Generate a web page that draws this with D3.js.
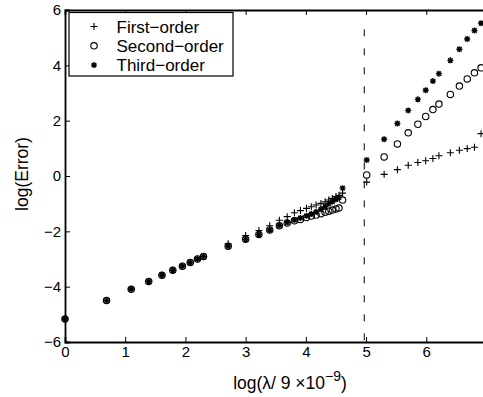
<!DOCTYPE html>
<html>
<head>
<meta charset="utf-8">
<script src="https://cdn.jsdelivr.net/npm/d3@7"></script>
<style>
  body { margin: 0; background: #fff; }
  text { font-family: "Liberation Sans", Arial, Helvetica, sans-serif; fill: #000; }
</style>
</head>
<body>
<script>
// x positions, log of the wavelength ratio
var xLow = [0, 0.69, 1.10, 1.39, 1.61, 1.79, 1.95, 2.08, 2.20, 2.30, 2.71, 3.00, 3.22, 3.40,
            3.56, 3.69, 3.81, 3.91, 4.01, 4.09, 4.17, 4.25, 4.32, 4.38, 4.44, 4.50, 4.55, 4.61];
var xHigh = [5.01, 5.30, 5.52, 5.70, 5.86, 5.99, 6.11, 6.21, 6.40, 6.55, 6.68, 6.80, 6.91];

var firstLow = [-5.17, -4.50, -4.09, -3.81, -3.59, -3.41, -3.26, -3.13, -3.00, -2.91, -2.45, -2.15, -1.97, -1.80,
                -1.60, -1.47, -1.33, -1.25, -1.17, -1.11, -1.05, -0.99, -0.93, -0.87, -0.81, -0.74, -0.70, -0.62];
var secondLow = [-5.17, -4.50, -4.09, -3.81, -3.59, -3.41, -3.26, -3.13, -3.00, -2.91, -2.54, -2.29, -2.11, -1.95,
                 -1.80, -1.70, -1.62, -1.57, -1.50, -1.45, -1.41, -1.36, -1.31, -1.27, -1.23, -1.19, -1.16, -0.87];
var thirdLow = [-5.17, -4.50, -4.09, -3.81, -3.59, -3.41, -3.26, -3.13, -3.00, -2.91, -2.54, -2.29, -2.11, -1.95,
                -1.79, -1.68, -1.59, -1.52, -1.44, -1.37, -1.30, -1.20, -1.10, -1.00, -0.93, -0.85, -0.78, -0.44];

var firstHigh = [-0.22, 0.06, 0.23, 0.39, 0.49, 0.55, 0.63, 0.73, 0.84, 0.93, 0.99, 1.04, 1.53];
var secondHigh = [0.04, 0.69, 1.16, 1.56, 1.87, 2.15, 2.40, 2.60, 2.95, 3.25, 3.51, 3.73, 3.91];
var thirdHigh = [0.58, 1.33, 1.90, 2.37, 2.77, 3.10, 3.43, 3.70, 4.18, 4.58, 4.95, 5.26, 5.52];

var cutoff = 4.97;
var cutoffTop = 5.3;

var xTicks = [0, 1, 2, 3, 4, 5, 6, 7];
var yTicks = [-6, -4, -2, 0, 2, 4, 6];
var legendNames = ["First\u2212order", "Second\u2212order", "Third\u2212order"];

var width = 483, height = 397;
var plotLeft = 65, plotTop = 10, plotBottom = 342, plotRight = 486.5;

var svg = d3.select("body").append("svg")
    .attr("width", width)
    .attr("height", height);

var x = d3.scaleLinear().domain([0, 7]).range([plotLeft, plotRight]);
var y = d3.scaleLinear().domain([-6, 6]).range([plotBottom, plotTop]);

// marker shapes, matlab style
var markers = [
    "M-3.5,0H3.5M0,-3.5V3.5",
    "circle",
    "M-3,0H3M0,-3V3M-2.2,-2.2L2.2,2.2M-2.2,2.2L2.2,-2.2"
];

function series(xs, ys) {
    return xs.map(function(d, i){ return {x: d, y: ys[i]}; });
}

var data = [
    series(xLow, firstLow).concat(series(xHigh, firstHigh)),
    series(xLow, secondLow).concat(series(xHigh, secondHigh)),
    series(xLow, thirdLow).concat(series(xHigh, thirdHigh))
];

function drawMarker(sel, k) {
    if (markers[k] == "circle") {
        sel.append("circle")
            .attr("r", 3.2)
            .attr("fill", "none")
            .attr("stroke", "#000")
            .attr("stroke-width", 1.1);
    } else {
        sel.append("path")
            .attr("d", markers[k])
            .attr("fill", "none")
            .attr("stroke", "#000")
            .attr("stroke-width", k == 2 ? 1.4 : 1.1);
    }
}

// axes (right side of the box falls just outside the picture)
svg.append("g")
    .attr("transform", "translate(0," + plotBottom + ")")
    .call(d3.axisBottom(x).tickValues(xTicks).tickSize(-5).tickPadding(4).tickFormat(d3.format("d")));
svg.append("g")
    .attr("transform", "translate(0," + plotTop + ")")
    .call(d3.axisTop(x).tickValues(xTicks).tickSize(-5).tickFormat(""));
svg.append("g")
    .attr("transform", "translate(" + plotLeft + ",0)")
    .call(d3.axisLeft(y).tickValues(yTicks).tickSize(-5).tickPadding(4).tickFormat(d3.format("d")));

svg.selectAll(".domain").attr("stroke", "#000").attr("stroke-width", 1.8);
svg.selectAll(".tick line").attr("stroke", "#000").attr("stroke-width", 1);
svg.selectAll(".tick text").style("font-size", "15px").style("fill", "#000")
    .style("font-family", "'Liberation Sans', Arial, sans-serif");

// cutoff line
svg.append("line")
    .attr("x1", x(cutoff)).attr("x2", x(cutoff))
    .attr("y1", y(cutoffTop)).attr("y2", y(-6))
    .attr("stroke", "#000")
    .attr("stroke-width", 1)
    .attr("stroke-dasharray", "7,12");

// points
data.forEach(function(s, k){
    var g = svg.append("g").selectAll("g").data(s)
        .enter().append("g")
        .attr("transform", function(d){ return "translate(" + x(d.x) + "," + y(d.y) + ")"; });
    drawMarker(g, k);
});

// legend
var legend = svg.append("g");
legend.append("rect")
    .attr("x", 69).attr("y", 12.5)
    .attr("width", 164).attr("height", 63.5)
    .attr("fill", "#fff")
    .attr("stroke", "#000")
    .attr("stroke-width", 1.2);
legendNames.forEach(function(name, k){
    var row = legend.append("g").attr("transform", "translate(0," + (26.5 + k * 19.3) + ")");
    var m = row.append("g").attr("transform", "translate(94,0)");
    drawMarker(m, k);
    row.append("text")
        .attr("x", 116.5)
        .attr("y", 0)
        .attr("dy", "0.36em")
        .style("font-size", "17px")
        .text(name);
});

// axis labels
svg.append("text")
    .attr("transform", "translate(28,174) rotate(-90)")
    .attr("text-anchor", "middle")
    .style("font-size", "17.5px")
    .text("log(Error)");

var xl = svg.append("text")
    .attr("x", 290)
    .attr("y", 389)
    .attr("text-anchor", "middle")
    .style("font-size", "17.5px");
xl.append("tspan").text("log(\u03bb/ 9 \u00d710");
xl.append("tspan").attr("dy", -8).style("font-size", "14px").text("\u22129");
xl.append("tspan").attr("dy", 8).text(")");
</script>
</body>
</html>
